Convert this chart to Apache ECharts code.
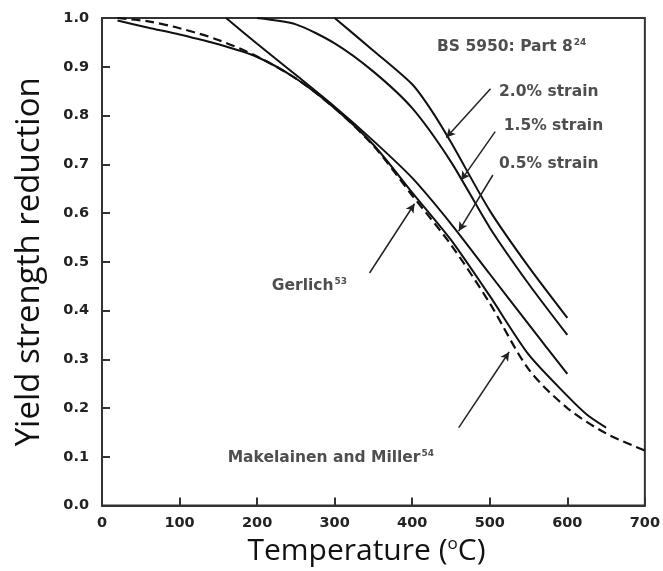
<!DOCTYPE html>
<html><head><meta charset="utf-8">
<script src="https://cdn.jsdelivr.net/npm/echarts@6/dist/echarts.min.js"></script>
<style>html,body{margin:0;padding:0;background:#fff}#c{width:663px;height:571px}</style>
</head><body><div id="c"></div>
<script>
// Temperature (°C) vs yield strength reduction factor
const xTicks = [0,100,200,300,400,500,600,700];
const yTicks = [0.0,0.1,0.2,0.3,0.4,0.5,0.6,0.7,0.8,0.9,1.0];

const bs20 = [[300,1.0],[350,0.933],[400,0.864],[425,0.81],[450,0.745],[500,0.605],[550,0.49],[600,0.385]];
const bs15 = [[200,1.0],[250,0.987],[300,0.948],[350,0.89],[400,0.815],[450,0.705],[500,0.57],[550,0.455],[600,0.35]];
const bs05 = [[160,1.0],[200,0.947],[240,0.896],[300,0.818],[350,0.748],[400,0.672],[450,0.578],[500,0.475],[550,0.372],[600,0.27]];
const gerlich = [[20,0.995],[60,0.98],[100,0.966],[150,0.946],[200,0.92],[250,0.876],[300,0.815],[350,0.74],[400,0.642],[450,0.545],[500,0.43],[550,0.31],[600,0.225],[625,0.187],[650,0.16]];
const makelainen = [[20,1.0],[60,0.993],[100,0.979],[150,0.955],[200,0.921],[250,0.876],[300,0.815],[350,0.738],[400,0.636],[450,0.535],[500,0.415],[550,0.28],[600,0.2],[650,0.148],[700,0.113]];

// annotation arrows [from, to] in data units
const arrows = [
  [[501,0.855],[444,0.755]],
  [[507,0.767],[463,0.667]],
  [[504,0.678],[460,0.563]],
  [[345,0.477],[403,0.619]],
  [[460,0.160],[525,0.315]]
];
// annotation texts [x, y, text]
const notes = [
  [432,0.941,'BS 5950: Part 8{s|24}'],
  [512,0.848,'2.0% strain'],
  [518,0.778,'1.5% strain'],
  [512,0.700,'0.5% strain'],
  [219,0.451,'Gerlich{s|53}'],
  [162,0.098,'Makelainen and Miller{s|54}']
];

const chart = echarts.init(document.getElementById('c'));
const lineBase = {type:'line', showSymbol:false, smooth:0.25, lineStyle:{color:'#111', width:2}, silent:true, animation:false};
const tickFont = {color:'#222', fontFamily:'DejaVu Sans, sans-serif', fontWeight:'bold', fontSize:14.5};
const noteFont = 'DejaVu Sans, sans-serif';

chart.setOption({
  animation:false,
  grid:{left:102, right:17, top:18, bottom:61, show:true, borderColor:'#333', borderWidth:2},
  xAxis:{type:'value', min:0, max:700, interval:100,
    name:'Temperature ({s|o}C)', nameLocation:'middle', nameGap:29,
    nameTextStyle:{fontFamily:'Open Sans, sans-serif', fontSize:30, color:'#111', padding:[0,14,0,0],
      rich:{s:{fontSize:17, verticalAlign:'top', padding:[0,0,14,0], fontFamily:'Open Sans, sans-serif', color:'#111'}}},
    axisLine:{lineStyle:{color:'#333', width:2}},
    axisTick:{inside:true, length:8, lineStyle:{color:'#333', width:2}},
    axisLabel:Object.assign({margin:10}, tickFont),
    splitLine:{show:false}},
  yAxis:{type:'value', min:0, max:1, interval:0.1,
    name:'Yield strength reduction', nameLocation:'middle', nameGap:56,
    nameTextStyle:{fontFamily:'Open Sans, sans-serif', fontSize:33, color:'#111'},
    axisLine:{lineStyle:{color:'#333', width:2}},
    axisTick:{inside:true, length:8, lineStyle:{color:'#333', width:2}},
    axisLabel:Object.assign({margin:13, formatter:v=>v.toFixed(1)}, tickFont),
    splitLine:{show:false}},
  series:[
    Object.assign({}, lineBase, {name:'2.0% strain', data:bs20}),
    Object.assign({}, lineBase, {name:'1.5% strain', data:bs15}),
    Object.assign({}, lineBase, {name:'0.5% strain', data:bs05}),
    Object.assign({}, lineBase, {name:'Gerlich', data:gerlich}),
    Object.assign({}, lineBase, {name:'Makelainen and Miller', data:makelainen, smooth:0.3, lineStyle:{color:'#111', width:2.2, type:[9,5]}}),
    {type:'scatter', data:[], silent:true,
      markLine:{silent:true, animation:false, symbol:['none','arrow'], symbolSize:[7,9],
        lineStyle:{color:'#222', width:1.5, type:'solid'}, label:{show:false},
        data:arrows.map(a=>[{coord:a[0]},{coord:a[1]}])}},
    {type:'scatter', silent:true, symbolSize:0,
      data:notes.map(n=>({value:[n[0],n[1]], label:{show:true, position:'right', distance:0, formatter:n[2]}})),
      label:{color:'#222', fontFamily:noteFont, fontSize:15.5, fontWeight:'bold',
        rich:{s:{fontSize:9, verticalAlign:'top', padding:[0,0,8,1], color:'#222', fontFamily:noteFont, fontWeight:'bold'}}}}
  ]
});
</script></body></html>
